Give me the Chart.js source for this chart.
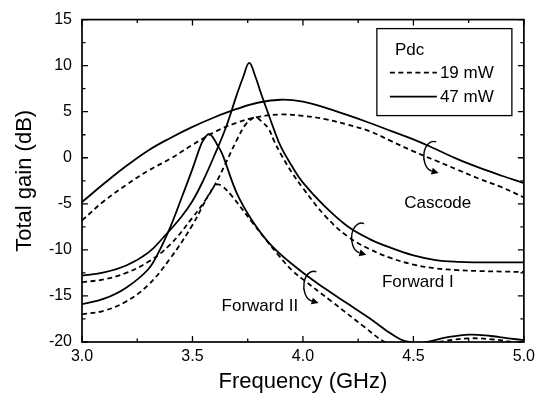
<!DOCTYPE html>
<html>
<head>
<meta charset="utf-8">
<script src="https://cdn.jsdelivr.net/npm/chart.js@4/dist/chart.umd.min.js"></script>
<style>
html,body{margin:0;padding:0;background:#fff;}
canvas{display:block;}
</style>
</head>
<body>
<canvas id="c" width="540" height="395"></canvas>
<script>
// ---- text ----
const xTickLabels = ['3.0', '3.5', '4.0', '4.5', '5.0'];
const yTickLabels = ['-20', '-15', '-10', '-5', '0', '5', '10', '15'];
const curveNames = ['Cascode', 'Forward I', 'Forward II'];
const powerLabels = ['19 mW', '47 mW'];
const legendTitle = 'Pdc';
const xAxisTitle = 'Frequency (GHz)';
const yAxisTitle = 'Total gain (dB)';

// ---- data (GHz, dB) ----
const cascode19Freq = [3.0,3.1,3.2,3.3,3.4,3.5,3.6,3.7,3.8,3.9,4.0,4.1,4.2,4.3,4.4,4.5,4.6,4.7,4.8,4.9,5.0];
const cascode19Gain = [-6.8,-4.7,-2.95,-1.4,-0.1,1.4,2.8,3.8,4.45,4.7,4.55,4.2,3.6,2.9,1.8,0.7,-0.3,-1.3,-2.3,-3.2,-4.3];

const cascode47Freq = [3.0,3.1,3.2,3.3,3.4,3.5,3.6,3.7,3.8,3.9,4.0,4.1,4.2,4.3,4.4,4.5,4.6,4.7,4.8,4.9,5.0];
const cascode47Gain = [-4.8,-2.8,-0.9,0.8,2.15,3.35,4.4,5.3,6.0,6.3,6.1,5.45,4.65,3.8,2.9,2.0,0.95,-0.15,-1.1,-1.95,-2.75];

const forward1_19Freq = [3.0,3.1,3.2,3.3,3.4,3.5,3.55,3.6,3.65,3.7,3.74,3.77,3.79,3.81,3.843,3.87,3.9,3.95,4.0,4.1,4.2,4.3,4.4,4.5,4.6,4.7,4.8,4.9,5.0];
const forward1_19Gain = [-13.5,-13.2,-12.5,-11.3,-9.4,-6.5,-4.9,-3.0,-0.6,1.9,3.6,4.25,4.35,4.0,3.2,1.8,0.4,-1.6,-3.3,-6.3,-8.5,-9.9,-10.9,-11.6,-12.0,-12.2,-12.3,-12.35,-12.4];

const forward1_47Freq = [3.0,3.1,3.2,3.3,3.37,3.45,3.5,3.55,3.6,3.65,3.7,3.73,3.757,3.785,3.81,3.84,3.87,3.9,3.95,4.0,4.1,4.2,4.3,4.4,4.5,4.6,4.7,4.8,4.9,5.0];
const forward1_47Gain = [-12.8,-12.45,-11.7,-10.3,-8.6,-6.4,-4.7,-2.4,0.3,3.2,6.8,8.8,10.3,8.8,7.0,5.0,3.0,1.2,-0.9,-2.7,-5.3,-7.4,-8.8,-9.8,-10.6,-11.1,-11.3,-11.35,-11.35,-11.35];

const forward2_19Freq = [3.0,3.1,3.2,3.3,3.4,3.5,3.56,3.59,3.61,3.635,3.68,3.77,3.89,3.95,4.0,4.13,4.28,4.37,4.45,4.55,4.65,4.75,4.85,4.95,5.0];
const forward2_19Gain = [-17.0,-16.6,-15.6,-13.8,-10.9,-7.3,-4.6,-3.4,-2.9,-3.1,-4.2,-7.0,-10.6,-12.2,-13.2,-15.6,-18.4,-20.0,-20.6,-20.3,-19.85,-19.6,-19.7,-20.0,-20.2];

const forward2_47Freq = [3.0,3.1,3.2,3.3,3.35,3.4,3.45,3.5,3.54,3.56,3.575,3.59,3.61,3.635,3.7,3.77,3.86,3.98,4.1,4.2,4.3,4.38,4.44,4.48,4.53,4.58,4.65,4.755,4.85,4.93,5.0];
const forward2_47Gain = [-15.9,-15.3,-14.1,-12.1,-10.1,-7.5,-4.4,-1.2,1.5,2.3,2.6,2.3,1.5,0.4,-3.8,-6.8,-9.6,-12.1,-14.2,-15.8,-17.4,-18.8,-19.7,-20.0,-20.1,-19.9,-19.5,-19.2,-19.35,-19.6,-19.8];

// ---- helpers ----
const FONT = '"Liberation Sans", Arial, sans-serif';
function pts(fr, g) { return fr.map((f, i) => ({ x: f, y: g[i] })); }
function ds(label, fr, g, dashed) {
  return {
    label: label,
    data: pts(fr, g),
    borderColor: '#000',
    borderWidth: 1.8,
    borderDash: dashed ? [5, 3.5] : [],
    pointRadius: 0,
    fill: false,
    tension: 0.4,
    clip: 0
  };
}

const datasets = [
  ds(curveNames[0] + ' ' + powerLabels[0], cascode19Freq, cascode19Gain, true),
  ds(curveNames[0] + ' ' + powerLabels[1], cascode47Freq, cascode47Gain, false),
  ds(curveNames[1] + ' ' + powerLabels[0], forward1_19Freq, forward1_19Gain, true),
  ds(curveNames[1] + ' ' + powerLabels[1], forward1_47Freq, forward1_47Gain, false),
  ds(curveNames[2] + ' ' + powerLabels[0], forward2_19Freq, forward2_19Gain, true),
  ds(curveNames[2] + ' ' + powerLabels[1], forward2_47Freq, forward2_47Gain, false)
];

// annotation anchors in data units
const labelAnchors = [
  { text: curveNames[0], x: 4.61, y: -4.98 },
  { text: curveNames[1], x: 4.52, y: -13.53 },
  { text: curveNames[2], x: 3.805, y: -16.09 }
];
const arrowAnchors = [
  { x: 4.592, y: 0.15 },
  { x: 4.265, y: -8.72 },
  { x: 4.049, y: -13.95 }
];

const decor = {
  id: 'decor',
  afterDatasetsDraw(chart) {
    const { ctx, chartArea: a, scales: { x, y } } = chart;
    ctx.save();
    ctx.strokeStyle = '#000';
    ctx.fillStyle = '#000';
    ctx.setLineDash([]);

    // ticks (inward, all four sides)
    ctx.lineWidth = 1.3;
    ctx.beginPath();
    const xv = x.ticks.map(t => t.value);
    xv.forEach((v, i) => {
      const p = x.getPixelForValue(v);
      ctx.moveTo(p, a.bottom); ctx.lineTo(p, a.bottom - 6);
      ctx.moveTo(p, a.top); ctx.lineTo(p, a.top + 6);
      if (i < xv.length - 1) {
        const m = x.getPixelForValue((v + xv[i + 1]) / 2);
        ctx.moveTo(m, a.bottom); ctx.lineTo(m, a.bottom - 3.5);
        ctx.moveTo(m, a.top); ctx.lineTo(m, a.top + 3.5);
      }
    });
    const yv = y.ticks.map(t => t.value);
    yv.forEach((v, i) => {
      const p = y.getPixelForValue(v);
      ctx.moveTo(a.left, p); ctx.lineTo(a.left + 6, p);
      ctx.moveTo(a.right, p); ctx.lineTo(a.right - 6, p);
      if (i < yv.length - 1) {
        const m = y.getPixelForValue((v + yv[i + 1]) / 2);
        ctx.moveTo(a.left, m); ctx.lineTo(a.left + 3.5, m);
        ctx.moveTo(a.right, m); ctx.lineTo(a.right - 3.5, m);
      }
    });
    ctx.stroke();

    // frame
    ctx.lineWidth = 1.7;
    ctx.strokeRect(a.left, a.top, a.right - a.left, a.bottom - a.top);

    // curve labels
    ctx.font = '17px ' + FONT;
    ctx.textAlign = 'center';
    ctx.textBaseline = 'middle';
    labelAnchors.forEach(l => {
      ctx.fillText(l.text, x.getPixelForValue(l.x), y.getPixelForValue(l.y));
    });

    // curved arrows
    ctx.lineWidth = 1.4;
    arrowAnchors.forEach(ar => {
      const cx = x.getPixelForValue(ar.x), cy = y.getPixelForValue(ar.y);
      const rx = 10, ry = 15;
      const t0 = -0.42 * Math.PI, t1 = 0.56 * Math.PI;
      ctx.beginPath();
      ctx.ellipse(cx, cy, rx, ry, 0, t0, t1, true);
      ctx.stroke();
      const ex = cx + rx * Math.cos(t1), ey = cy + ry * Math.sin(t1);
      let dx = rx * Math.sin(t1), dy = -ry * Math.cos(t1);
      const len = Math.hypot(dx, dy); dx /= len; dy /= len;
      const nx = -dy, ny = dx;
      ctx.beginPath();
      ctx.moveTo(ex + dx * 7, ey + dy * 7);
      ctx.lineTo(ex + nx * 3.5, ey + ny * 3.5);
      ctx.lineTo(ex - nx * 3.5, ey - ny * 3.5);
      ctx.closePath();
      ctx.fill();
    });

    // legend box
    const bx = a.right - 147, by = a.top + 9, bw = 135, bh = 87;
    ctx.fillStyle = '#fff';
    ctx.fillRect(bx, by, bw, bh);
    ctx.fillStyle = '#000';
    ctx.lineWidth = 1.3;
    ctx.strokeRect(bx, by, bw, bh);
    ctx.font = '17px ' + FONT;
    ctx.textAlign = 'left';
    ctx.textBaseline = 'middle';
    ctx.fillText(legendTitle, bx + 18, by + 22);
    ctx.lineWidth = 1.8;
    const rows = [{ t: powerLabels[0], dash: [5, 3.5], yy: by + 44 }, { t: powerLabels[1], dash: [], yy: by + 68 }];
    rows.forEach(r => {
      ctx.setLineDash(r.dash);
      ctx.beginPath();
      ctx.moveTo(bx + 13, r.yy); ctx.lineTo(bx + 60, r.yy);
      ctx.stroke();
      ctx.setLineDash([]);
      ctx.fillText(r.t, bx + 63, r.yy + 1);
    });
    ctx.restore();
  }
};

new Chart(document.getElementById('c'), {
  type: 'line',
  data: { datasets: datasets },
  options: {
    responsive: false,
    devicePixelRatio: 1,
    animation: false,
    layout: { padding: { top: 14, right: 13, left: 0, bottom: 0 } },
    plugins: { legend: { display: false }, tooltip: { enabled: false } },
    scales: {
      x: {
        type: 'linear',
        min: 3, max: 5,
        grid: { display: false, drawTicks: false },
        border: { display: false },
        ticks: {
          stepSize: 0.5,
          padding: 5,
          color: '#000',
          font: { family: FONT, size: 16 },
          maxRotation: 0,
          callback: (v, i) => xTickLabels[i]
        },
        title: {
          display: true,
          text: xAxisTitle,
          color: '#000',
          font: { family: FONT, size: 22 },
          padding: { top: 0, bottom: 0 }
        },
        afterFit: (s) => { s.height = 53; }
      },
      y: {
        type: 'linear',
        min: -20, max: 15,
        grid: { display: false, drawTicks: false },
        border: { display: false },
        ticks: {
          stepSize: 5,
          padding: 10,
          color: '#000',
          font: { family: FONT, size: 16 },
          callback: (v, i) => yTickLabels[i]
        },
        title: {
          display: true,
          text: yAxisTitle,
          color: '#000',
          font: { family: FONT, size: 22 },
          padding: { top: 12, bottom: 0 }
        },
        afterFit: (s) => { s.width = 82; }
      }
    }
  },
  plugins: [decor]
});
</script>
</body>
</html>
